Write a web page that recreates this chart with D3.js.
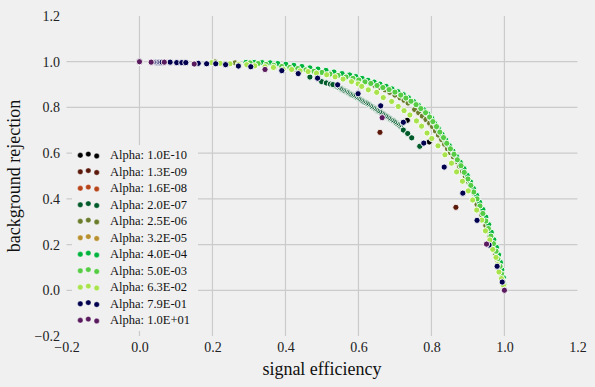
<!DOCTYPE html>
<html><head><meta charset="utf-8">
<script src="https://cdn.jsdelivr.net/npm/d3@7"></script>
<style>html,body{margin:0;padding:0;background:#f0f0f0;}svg{display:block;}</style>
</head><body>
<svg id="chart" width="595" height="387"></svg>
<script>
// ---------- data ----------
const alphaLabels = ["1.0E-10","1.3E-09","1.6E-08","2.0E-07","2.5E-06","3.2E-05","4.0E-04","5.0E-03","6.3E-02","7.9E-01","1.0E+01"];
const xTicks = [-0.2, 0.0, 0.2, 0.4, 0.6, 0.8, 1.0, 1.2];
const yTicks = [-0.2, 0.0, 0.2, 0.4, 0.6, 0.8, 1.0, 1.2];
const gridTicks = [0.0, 0.2, 0.4, 0.6, 0.8, 1.0];
const xLabel = "signal efficiency";
const yLabel = "background rejection";

const alpha_1_0E_10 = [[0.0,1.0],[0.734,0.744],[0.794,0.649],[1.0,0.0]];
const alpha_1_3E_09 = [[0.0,1.0],[0.659,0.691],[0.867,0.363],[1.0,0.0]];
const alpha_1_6E_08 = [[0.0,1.0],[1.0,0.0]];
const alpha_2_0E_07 = [[0.0,1.0],[0.467,0.933],[0.499,0.913],[0.512,0.907],[0.523,0.902],
 [0.715,0.718],[0.711,0.723],[0.707,0.728],[0.703,0.732],[0.699,0.737],[0.695,0.742],[0.690,0.746],[0.686,0.751],
 [0.682,0.755],[0.678,0.760],[0.674,0.764],[0.670,0.769],[0.666,0.773],[0.662,0.778],[0.658,0.782],[0.653,0.786],
 [0.649,0.791],[0.645,0.795],[0.641,0.799],[0.637,0.803],[0.633,0.807],[0.629,0.812],[0.625,0.816],[0.621,0.820],
 [0.616,0.824],[0.612,0.828],[0.608,0.832],[0.604,0.836],[0.600,0.839],[0.596,0.843],[0.592,0.847],[0.588,0.851],
 [0.584,0.855],[0.579,0.858],[0.575,0.862],[0.571,0.866],[0.567,0.869],[0.563,0.873],[0.559,0.876],[0.555,0.880],
 [0.551,0.883],[0.547,0.887],[0.542,0.890],[0.538,0.894],[0.534,0.897],[0.530,0.900],
 [0.723,0.701],[0.735,0.686],[0.746,0.667],[0.768,0.630],[1.0,0.0]];
const alpha_2_5E_06 = [[0.0,1.0],[0.207,0.999],[0.262,0.995],[0.316,0.988],[0.371,0.979],[0.426,0.968],[0.482,0.955],
 [0.522,0.950],[0.549,0.944],[0.571,0.936],[0.590,0.928],[0.604,0.921],[0.618,0.913],[0.632,0.905],[0.645,0.896],
 [0.659,0.887],[0.673,0.877],[0.686,0.866],[0.700,0.854],[0.714,0.842],[0.725,0.831],[0.736,0.819],
 [0.754,0.791],[0.765,0.777],[0.775,0.762],[0.785,0.747],[0.795,0.731],[0.803,0.716],[0.811,0.697],[0.819,0.679],
 [0.828,0.659],[0.836,0.639],[0.844,0.619],[0.852,0.602],[0.860,0.584],[0.869,0.564],[0.877,0.542],[0.885,0.520],
 [0.893,0.498],[0.902,0.474],[0.910,0.449],[0.917,0.424],[0.923,0.400],
 [0.925,0.375],[0.932,0.351],[0.938,0.329],[0.943,0.307],[0.949,0.283],[0.954,0.259],[0.960,0.235],[0.965,0.211],
 [0.970,0.184],[0.976,0.158],[0.980,0.134],[0.984,0.110],[0.988,0.083],[0.992,0.057],[0.995,0.031],[0.998,0.004]];
const alpha_3_2E_05 = [[0.0,1.0],[1.0,0.0]];
const alpha_4_0E_04 = [[0.0,1.0],[0.292,0.997],[0.314,0.997],[0.336,0.996],[0.358,0.995],[0.379,0.992],[0.401,0.989],[0.423,0.984],
 [0.445,0.979],[0.467,0.973],[0.489,0.968],[0.511,0.962],[0.533,0.955],[0.555,0.948],[0.576,0.942],[0.593,0.935],
 [0.610,0.927],[0.626,0.919],[0.643,0.911],[0.659,0.902],[0.676,0.892],[0.692,0.881],[0.708,0.869],[0.723,0.856],
 [0.737,0.842],[0.751,0.826],[0.764,0.810],[0.778,0.791],[0.790,0.772],[0.801,0.752],[0.809,0.730],[0.819,0.707],
 [0.829,0.683],[0.839,0.658],[0.849,0.633],[0.859,0.609],[0.869,0.585],[0.879,0.560],[0.889,0.532],[0.898,0.503],
 [0.907,0.474],[0.915,0.445],[0.924,0.415],[0.932,0.385],[0.941,0.353],[0.949,0.320],[0.957,0.287],[0.964,0.254],
 [0.971,0.221],[0.978,0.188],[0.984,0.155],[0.989,0.122],[0.993,0.089],[0.997,0.056],[0.999,0.024]];
const alpha_5_0E_03 = [[0.0,1.0],[0.303,0.995],[0.325,0.992],[0.347,0.988],[0.368,0.984],[0.390,0.979],[0.412,0.975],
 [0.434,0.970],[0.456,0.964],[0.478,0.958],[0.500,0.953],[0.522,0.946],[0.544,0.940],[0.566,0.933],[0.585,0.927],
 [0.601,0.920],[0.618,0.912],[0.634,0.905],[0.651,0.896],[0.667,0.887],[0.684,0.878],[0.700,0.867],[0.716,0.854],
 [0.730,0.841],[0.744,0.827],[0.758,0.812],[0.771,0.795],[0.784,0.777],[0.795,0.758],[0.804,0.738],[0.814,0.716],
 [0.823,0.692],[0.833,0.668],[0.842,0.643],[0.852,0.619],[0.862,0.595],[0.871,0.571],[0.881,0.545],[0.890,0.516],
 [0.900,0.487],[0.908,0.459],[0.916,0.430],[0.925,0.400],[0.933,0.369],[0.941,0.336],[0.949,0.303],[0.956,0.270],
 [0.963,0.237],[0.970,0.204],[0.977,0.171],[0.982,0.138],[0.988,0.105],[0.992,0.072],[0.996,0.040],[0.999,0.009]];
const alpha_6_3E_02 = [[0.0,1.0],[0.198,0.996],[0.221,0.993],[0.248,0.991],[0.271,0.988],[0.294,0.987],[0.316,0.982],
 [0.344,0.978],[0.367,0.975],[0.394,0.967],[0.417,0.966],[0.440,0.960],[0.462,0.957],[0.485,0.950],[0.513,0.943],
 [0.536,0.934],[0.558,0.924],[0.581,0.913],[0.599,0.903],[0.609,0.892],[0.627,0.877],[0.650,0.866],[0.668,0.843],
 [0.691,0.826],[0.709,0.804],[0.725,0.786],[0.741,0.767],[0.759,0.741],[0.773,0.718],[0.788,0.688],[0.801,0.664],
 [0.818,0.632],[0.837,0.593],[0.855,0.556],[0.869,0.518],[0.885,0.477],[0.901,0.435],[0.913,0.395],[0.924,0.351],
 [0.938,0.307],[0.948,0.260],[0.960,0.220],[0.968,0.179],[0.977,0.144],[0.981,0.112],[0.985,0.080],[0.992,0.051],
 [0.997,0.022],[1.0,0.0]];
const alpha_7_9E_01 = [[0.0,1.0],[0.046,0.998],[0.050,0.998],[0.054,0.998],[0.058,0.998],[0.062,0.998],[0.084,0.998],
 [0.102,0.996],[0.116,0.996],[0.127,0.996],[0.161,0.993],[0.184,0.991],[0.209,0.991],[0.236,0.987],[0.271,0.981],
 [0.305,0.978],[0.390,0.961],[0.435,0.948],[0.488,0.928],[0.543,0.899],[0.599,0.860],[0.661,0.807],[0.723,0.735],
 [0.779,0.644],[0.835,0.539],[0.886,0.425],[0.925,0.306],[0.958,0.198],[0.980,0.105],[0.994,0.036],[1.0,0.0]];
const alpha_1_0E_01 = [[0.0,1.0],[0.032,0.998],[0.068,0.998],[0.150,0.990],[0.344,0.966],[0.665,0.755],[0.951,0.202],[1.0,0.0]];

const seriesData = [alpha_1_0E_10, alpha_1_3E_09, alpha_1_6E_08, alpha_2_0E_07, alpha_2_5E_06, alpha_3_2E_05,
  alpha_4_0E_04, alpha_5_0E_03, alpha_6_3E_02, alpha_7_9E_01, alpha_1_0E_01];

// ---------- styles ----------
const palette = ["#000000","#5c1a0c","#b8441a","#005a2a","#6b7d2c","#b8902e","#00b33c","#55cc44","#a8e34c","#00004f","#5a1a5e"];
const FONT = "'Liberation Serif', 'Times New Roman', serif";

const W = 595, H = 387;
const svg = d3.select("#chart");
svg.append("rect").attr("width", W).attr("height", H).attr("fill", "#f0f0f0");

const x = d3.scaleLinear().domain([-0.2, 1.2]).range([66.5, 577.4]);
const y = d3.scaleLinear().domain([-0.2, 1.2]).range([336, 16]);

// grid
const grid = svg.append("g").attr("stroke", "#cbcbcb").attr("stroke-width", 1.2);
grid.selectAll("line.v").data(gridTicks).join("line").attr("class", "v")
  .attr("x1", d => x(d)).attr("x2", d => x(d)).attr("y1", y(1.2)).attr("y2", y(-0.2));
grid.selectAll("line.h").data(gridTicks).join("line").attr("class", "h")
  .attr("y1", d => y(d)).attr("y2", d => y(d)).attr("x1", x(-0.2)).attr("x2", x(1.2));

// axes
const fmt = d3.format(".1f");
const xAxis = svg.append("g").attr("transform", `translate(0,${y(-0.2)})`)
  .call(d3.axisBottom(x).tickValues(xTicks).tickFormat(fmt).tickSize(0).tickPadding(6.5));
const yAxis = svg.append("g").attr("transform", `translate(${x(-0.2)},0)`)
  .call(d3.axisLeft(y).tickValues(yTicks).tickFormat(fmt).tickSize(0).tickPadding(6.5));
[xAxis, yAxis].forEach(a => {
  a.select(".domain").remove();
  a.selectAll("text").attr("font-family", FONT).attr("font-size", 14).attr("fill", "#222");
});

svg.append("text").attr("x", (x(-0.2) + x(1.2)) / 2).attr("y", 375)
  .attr("text-anchor", "middle").attr("font-family", FONT).attr("font-size", 18).attr("fill", "#111")
  .text(xLabel);
svg.append("text").attr("transform", `translate(19.5,${(y(-0.2) + y(1.2)) / 2}) rotate(-90)`)
  .attr("text-anchor", "middle").attr("font-family", FONT).attr("font-size", 18).attr("fill", "#111")
  .text(yLabel);

// points
const pts = svg.append("g");
seriesData.forEach((data, i) => {
  pts.append("g").selectAll("circle").data(data).join("circle")
    .attr("cx", d => x(d[0])).attr("cy", d => y(d[1])).attr("r", 3.1)
    .attr("fill", palette[i]).attr("stroke", "#ffffff").attr("stroke-opacity", 0.9).attr("stroke-width", 1);
});

// legend
const lg = svg.append("g");
lg.append("rect").attr("x", 72).attr("y", 145).attr("width", 126).attr("height", 186).attr("fill", "#f0f0f0");
const dotX = [80.3, 88.3, 96.7], dotDY = [0.3, -0.9, 1.0];
alphaLabels.forEach((lab, i) => {
  const ry = 155 + i * 16.5;
  const row = lg.append("g");
  dotX.forEach((dx, k) => {
    row.append("circle").attr("cx", dx).attr("cy", ry + dotDY[k]).attr("r", 2.7)
      .attr("fill", palette[i]).attr("stroke", "#fff").attr("stroke-width", 0.5).attr("stroke-opacity", 0.7);
  });
  row.append("text").attr("x", 110).attr("y", ry + 4.3).attr("font-family", FONT).attr("font-size", 12.5)
    .attr("fill", "#111").text("Alpha: " + lab);
});
</script>
</body></html>
